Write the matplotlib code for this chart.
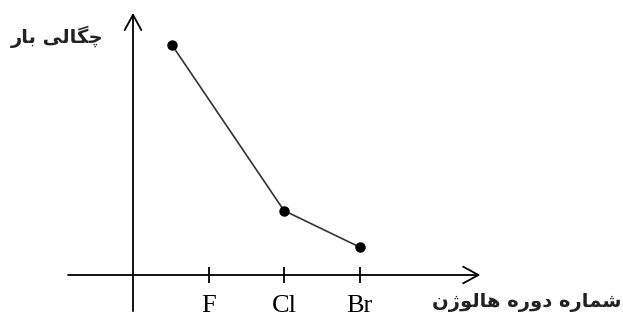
import matplotlib
matplotlib.use("Agg")
import matplotlib.pyplot as plt

# Data (arbitrary units)
periods = [0.52, 2.0, 3.0]          # x position of each point (F=1, Cl=2, Br=3)
charge_density = [8.2, 2.3, 1.0]    # y values
tick_pos = [1, 2, 3]
tick_labels = ["F", "Cl", "Br"]

# Persian labels, pre-shaped (presentation forms, visual order)
ylabel_text = "\uFEAD\uFE8E\uFE91 \uFBFD\uFEDF\uFE8E\uFB95\uFB7C"          # چگالی بار
xlabel_text = ("\uFEE5\uFB8A\uFEEE\uFEDF\uFE8E\uFEEB \uFEE9\uFEAD\uFEED\uFEA9 "
               "\uFEE9\uFEAD\uFE8E\uFEE4\uFEB7")                           # شماره دوره هالوژن

W, H = 623, 321
fig = plt.figure(figsize=(W / 100, H / 100), dpi=100)
ax = fig.add_axes([0, 0, 1, 1])

xs = 75.5  # px per x unit
ys = 28.0  # px per y unit
x0, y0 = 133, 275
ax.set_xlim(-x0 / xs, (W - x0) / xs)
ax.set_ylim(-(H - y0) / ys, y0 / ys)

# place tick marks on the data axis line (before configuring ticks)
ax.spines["bottom"].set_position(("data", 0))
for s in ax.spines.values():
    s.set_visible(False)

# axes with arrows
arrow_style = "->,head_length=0.55,head_width=0.3"
ax.annotate("", xy=(4.6, 0), xytext=(-0.86, 0),
            arrowprops=dict(arrowstyle=arrow_style, lw=1.3, color="black",
                            shrinkA=0, shrinkB=0, mutation_scale=20))
ax.annotate("", xy=(0, 9.36), xytext=(0, -1.29),
            arrowprops=dict(arrowstyle=arrow_style, lw=1.3, color="black",
                            shrinkA=0, shrinkB=0, mutation_scale=20))

# ticks
ax.xaxis.set_ticks_position("bottom")
ax.set_xticks(tick_pos)
ax.set_xticklabels(tick_labels)
ax.tick_params(axis="x", direction="inout", length=11, width=1.3, pad=9,
               color="black", labelsize=19)
for lbl in ax.get_xticklabels():
    lbl.set_family("Liberation Serif")
ax.set_yticks([])

# data line
ax.plot(periods, charge_density, color="#333333", lw=1.2, marker="o",
        markersize=6.5, markerfacecolor="black", markeredgecolor="black",
        zorder=3)

# labels
fig.text(57 / W, 1 - 37 / H, ylabel_text, family="DejaVu Sans",
         fontweight="bold", fontsize=14, ha="center", va="center",
         color="#222222")
fig.text(527 / W, 1 - 303 / H, xlabel_text, family="DejaVu Sans",
         fontweight="bold", fontsize=14, ha="center", va="center",
         color="#222222")

fig.savefig("out.png", dpi=100)
